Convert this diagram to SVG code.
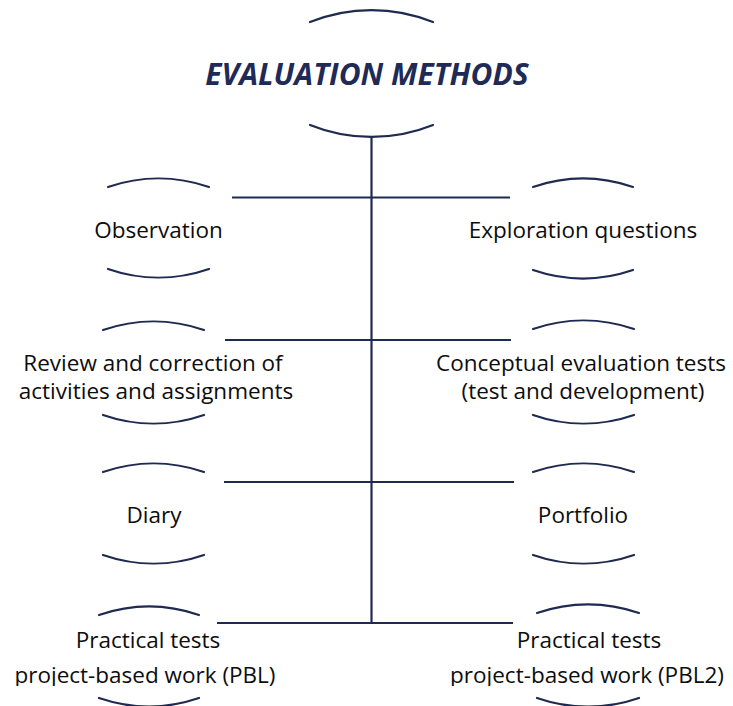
<svg xmlns="http://www.w3.org/2000/svg" width="733" height="706" viewBox="0 0 733 706">
<style>
.arc{fill:none;stroke:#1F2A50;stroke-width:2.2;stroke-linecap:round}
.ln{fill:none;stroke:#1F2A50;stroke-width:2.2}
.t{font-family:"Open Sans","Liberation Sans",sans-serif;font-size:22.5px;fill:#0d0d0d;text-anchor:middle}
.title{font-family:"Open Sans","Liberation Sans",sans-serif;font-size:30px;font-weight:bold;font-style:italic;fill:#1F2A56;text-anchor:middle}
</style>
<defs>
<clipPath id="clipL"><rect x="0" y="655" width="360" height="31"/></clipPath>
<clipPath id="clipR"><rect x="380" y="655" width="353" height="31"/></clipPath>
</defs>
<g id="connectors">
<line class="ln" x1="371.5" y1="137" x2="371.5" y2="624"/>
<line class="ln" x1="232" y1="197.5" x2="510" y2="197.5"/>
<line class="ln" x1="225" y1="340" x2="511" y2="340"/>
<line class="ln" x1="224" y1="482" x2="514" y2="482"/>
<line class="ln" x1="217" y1="623" x2="513" y2="623"/>
</g>
<g id="title">
<path class="arc" d="M310 22 A164 164 0 0 1 433 22"/>
<path class="arc" d="M310 125 A164 164 0 0 0 433 125"/>
<text class="title" x="367" y="85">EVALUATION METHODS</text>
</g>
<g id="observation">
<path class="arc" d="M108 187 A154 154 0 0 1 209 187"/>
<path class="arc" d="M108 269 A154 154 0 0 0 209 269"/>
<text class="t" x="158.5" y="238">Observation</text>
</g>
<g id="exploration">
<path class="arc" d="M533 187 A154 154 0 0 1 633 187"/>
<path class="arc" d="M533 270 A154 154 0 0 0 633 270"/>
<text class="t" x="583" y="238">Exploration questions</text>
</g>
<g id="review">
<path class="arc" d="M103 330 A154 154 0 0 1 204 330"/>
<path class="arc" d="M103 415 A154 154 0 0 0 204 415"/>
<text class="t" x="153" y="371">Review and correction of</text>
<text class="t" x="156" y="399">activities and assignments</text>
</g>
<g id="conceptual">
<path class="arc" d="M533 329 A154 154 0 0 1 634 329"/>
<path class="arc" d="M533 415 A154 154 0 0 0 634 415"/>
<text class="t" x="581" y="371">Conceptual evaluation tests</text>
<text class="t" x="583" y="399">(test and development)</text>
</g>
<g id="diary">
<path class="arc" d="M103 472 A154 154 0 0 1 204 472"/>
<path class="arc" d="M103 555 A154 154 0 0 0 204 555"/>
<text class="t" x="154" y="523">Diary</text>
</g>
<g id="portfolio">
<path class="arc" d="M533 472 A154 154 0 0 1 634 472"/>
<path class="arc" d="M533 555 A154 154 0 0 0 634 555"/>
<text class="t" x="583" y="523">Portfolio</text>
</g>
<g id="pbl">
<path class="arc" d="M99 615 A154 154 0 0 1 199 615"/>
<path class="arc" d="M99 698 A154 154 0 0 0 199 698"/>
<text class="t" x="148" y="648">Practical tests</text>
<text class="t" x="145" y="683" clip-path="url(#clipL)">project-based work (PBL)</text>
</g>
<g id="pbl2">
<path class="arc" d="M537 613 A154 154 0 0 1 639 613"/>
<path class="arc" d="M537 698 A154 154 0 0 0 639 698"/>
<text class="t" x="589" y="648">Practical tests</text>
<text class="t" x="587" y="683" clip-path="url(#clipR)">project-based work (PBL2)</text>
</g>
</svg>
